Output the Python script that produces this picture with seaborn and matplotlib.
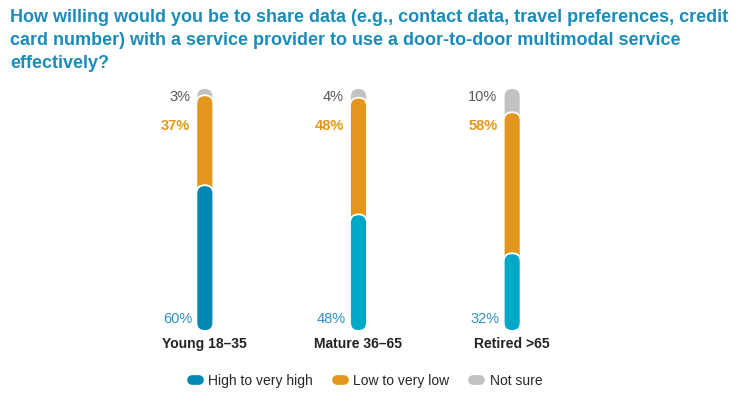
import matplotlib.pyplot as plt
import pandas as pd
import seaborn as sns
from matplotlib.lines import Line2D
from matplotlib.patches import FancyBboxPatch

# data
groups = ["Young 18–35", "Mature 36–65", "Retired >65"]
high = [60, 48, 32]
low = [37, 48, 58]
unsure = [3, 4, 10]
series_names = ["High to very high", "Low to very low", "Not sure"]

title = ("How willing would you be to share data (e.g., contact data, travel preferences, credit\n"
         "card number) with a service provider to use a door-to-door multimodal service\n"
         "effectively?")

blue_dark = "#0088b2"
blue_light = "#00a8c8"
orange = "#e3961b"
grey = "#c2c2c2"

df = pd.DataFrame({"group": groups, "high": high, "low": low, "unsure": unsure})
df["top_low"] = df["high"] + df["low"]
df["top_all"] = df["top_low"] + df["unsure"]

sns.set_style("white")
plt.rcParams["font.family"] = ["Liberation Sans", "DejaVu Sans"]

fig = plt.figure(figsize=(7.5, 4.09), dpi=100)
ax = fig.add_axes([128 / 750, 78 / 409, 461 / 750, 243 / 409])

bw = 0.11
# stacked look: draw cumulative totals, largest first
sns.barplot(data=df, x="group", y="top_all", color=grey, width=bw, saturation=1, ax=ax)
sns.barplot(data=df, x="group", y="top_low", color=orange, width=bw, saturation=1, ax=ax)
sns.barplot(data=df, x="group", y="high", hue="group",
            palette=[blue_dark, blue_light, blue_light], width=bw,
            saturation=1, legend=False, ax=ax)

ax.set_xlim(-0.5, 2.5)
ax.set_ylim(0, 100)

# swap the plain rectangles for capsules
bb = ax.get_window_extent()
aspect = (100 / bb.height) / (3 / bb.width)
for bar in list(ax.patches):
    x, y = bar.get_xy()
    w, h = bar.get_width(), bar.get_height()
    cap = FancyBboxPatch((x, y), w, h,
                         boxstyle=f"round,pad=0,rounding_size={w / 2}",
                         mutation_aspect=aspect, fc=bar.get_facecolor(),
                         ec="white", lw=1.3, clip_on=False)
    bar.remove()
    ax.add_patch(cap)

for i, row in df.iterrows():
    xl = i - bw / 2 - 0.04
    ax.text(xl, 96.3, f"{row.unsure}%", ha="right", va="center", color="#595959", fontsize=10.5)
    ax.text(xl, 84.3, f"{row.low}%", ha="right", va="center", color=orange,
            fontsize=10.5, fontweight="bold")
    ax.text(xl + 0.015, 5, f"{row.high}%", ha="right", va="center", color="#2a93c9",
            fontsize=10.5)

ax.set_xlabel("")
ax.set_ylabel("")
ax.set_yticks([])
ax.tick_params(axis="x", length=0, pad=4, labelsize=10)
for lab in ax.get_xticklabels():
    lab.set_fontweight("bold")
    lab.set_color("#222222")
sns.despine(ax=ax, left=True, bottom=True)

handles = [Line2D([0], [0], color=c, lw=7, solid_capstyle="round")
           for c in [blue_dark, orange, grey]]
fig.legend(handles, series_names, loc="center", bbox_to_anchor=(367 / 750, 1 - 381 / 409),
           ncol=3, frameon=False, fontsize=10, handlelength=0.5, handletextpad=0.7,
           columnspacing=1.7)

fig.text(10 / 750, 1 - 9 / 409, title, ha="left", va="top", fontsize=13,
         fontweight="bold", color="#1a8cba", linespacing=1.45)

fig.savefig("out.png", dpi=100)
